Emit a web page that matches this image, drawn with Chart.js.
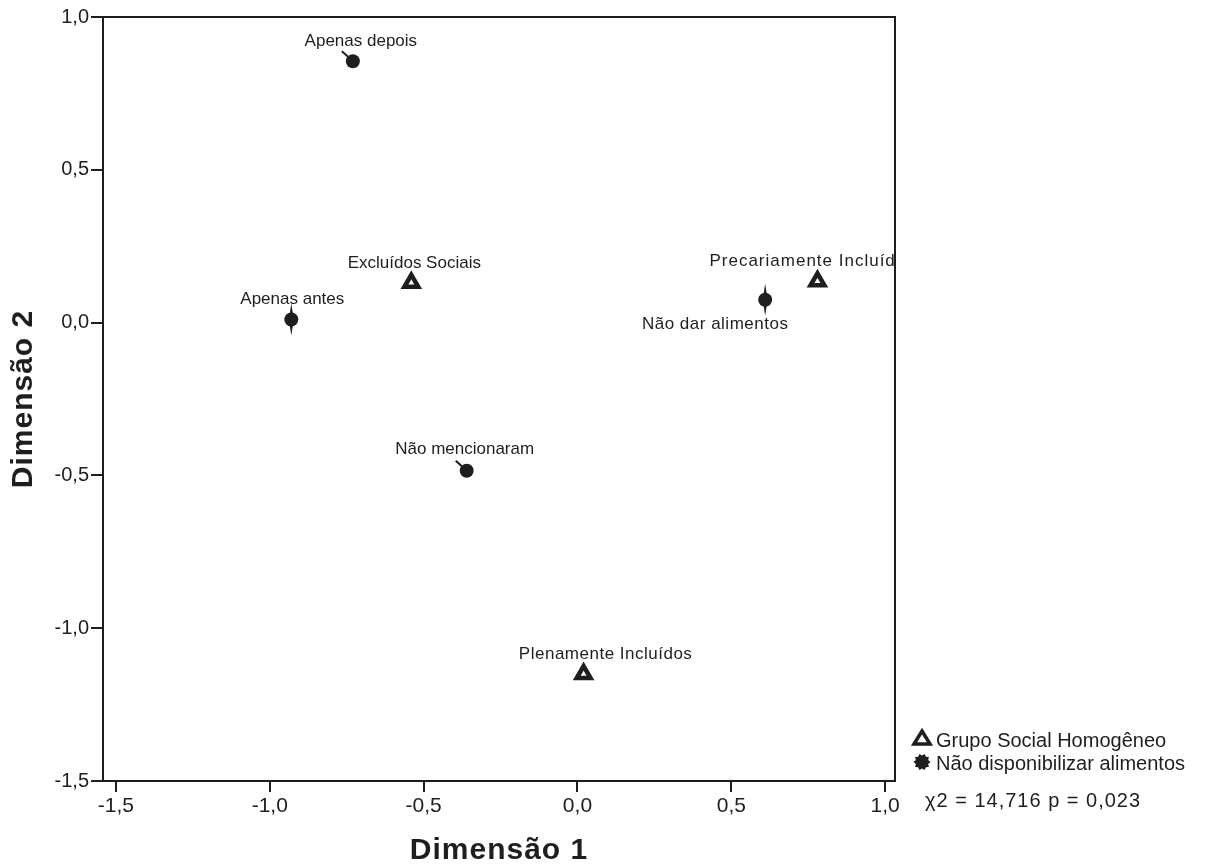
<!DOCTYPE html>
<html>
<head>
<meta charset="utf-8">
<script src="https://cdn.jsdelivr.net/npm/chart.js@4/dist/chart.umd.min.js"></script>
<style>
  body { margin: 0; background: #fff; }
  canvas { display: block; }
</style>
</head>
<body>
<canvas id="chart" width="1212" height="865"></canvas>
<script>
// category points (Grupo Social Homogêneo)
const groupNames = ['Excluídos Sociais', 'Precariamente Incluídos', 'Plenamente Incluídos'];
const groupDim1 = [-0.54, 0.78, 0.02];
const groupDim2 = [0.13, 0.135, -1.15];

// category points (Não disponibilizar alimentos)
const foodNames = ['Apenas depois', 'Apenas antes', 'Não mencionaram', 'Não dar alimentos'];
const foodDim1 = [-0.73, -0.93, -0.36, 0.61];
const foodDim2 = [0.855, 0.01, -0.485, 0.075];

const xTicks = [-1.5, -1.0, -0.5, 0.0, 0.5, 1.0];
const xTickLabels = ['-1,5', '-1,0', '-0,5', '0,0', '0,5', '1,0'];
const yTicks = [-1.5, -1.0, -0.5, 0.0, 0.5, 1.0];
const yTickLabels = ['-1,5', '-1,0', '-0,5', '0,0', '0,5', '1,0'];

const xTitle = 'Dimensão 1';
const yTitle = 'Dimensão 2';
const legendLabels = ['Grupo Social Homogêneo', 'Não disponibilizar alimentos'];
const statText = 'χ2 = 14,716 p = 0,023';

const ink = '#1e1e1e';
const FONT = "'Liberation Sans', Arial, sans-serif";

// where each point label sits relative to its marker (pixels)
const labelPlace = {
  'Apenas depois': { dx: 8, dy: -15 },
  'Apenas antes': { dx: 1, dy: -16 },
  'Não mencionaram': { dx: -2, dy: -17 },
  'Não dar alimentos': { dx: -50, dy: 29, spacing: 0.5 },
  'Excluídos Sociais': { dx: 3, dy: -15 },
  'Precariamente Incluídos': { dx: -108, dy: -15, spacing: 1, align: 'left' },
  'Plenamente Incluídos': { dx: 22, dy: -15, spacing: 0.5 }
};
// leader marks drawn by the labelling: 'tail' or 'spike'
const leader = {
  'Apenas depois': 'tail',
  'Não mencionaram': 'tail',
  'Apenas antes': 'spike',
  'Não dar alimentos': 'spike'
};

const labelsPlugin = {
  id: 'pointLabels',
  afterDatasetsDraw(chart) {
    const ctx = chart.ctx;
    const area = chart.chartArea;
    ctx.save();
    ctx.beginPath();
    ctx.rect(area.left, area.top, area.right - area.left, area.bottom - area.top);
    ctx.clip();
    ctx.fillStyle = ink;
    ctx.strokeStyle = ink;
    ctx.font = '17px ' + FONT;
    chart.data.datasets.forEach((ds, di) => {
      const meta = chart.getDatasetMeta(di);
      meta.data.forEach((pt, i) => {
        const name = ds.names[i];
        const p = labelPlace[name] || { dx: 0, dy: -15 };
        ctx.letterSpacing = (p.spacing || 0) + 'px';
        ctx.textAlign = p.align || 'center';
        ctx.textBaseline = 'alphabetic';
        ctx.fillText(name, pt.x + p.dx, pt.y + p.dy);
        if (leader[name] === 'tail') {
          ctx.lineWidth = 2;
          ctx.beginPath();
          ctx.moveTo(pt.x - 11, pt.y - 10);
          ctx.lineTo(pt.x - 2, pt.y - 2);
          ctx.stroke();
        } else if (leader[name] === 'spike') {
          ctx.beginPath();
          ctx.moveTo(pt.x, pt.y - 16);
          ctx.lineTo(pt.x + 2.5, pt.y);
          ctx.lineTo(pt.x, pt.y + 16);
          ctx.lineTo(pt.x - 2.5, pt.y);
          ctx.closePath();
          ctx.fill();
        }
      });
    });
    ctx.restore();

    // frame around plot area
    ctx.save();
    ctx.strokeStyle = ink;
    ctx.lineWidth = 2;
    ctx.strokeRect(area.left, area.top, area.right - area.left, area.bottom - area.top);
    ctx.restore();
  },
  afterDraw(chart) {
    const ctx = chart.ctx;
    const area = chart.chartArea;
    ctx.save();
    ctx.fillStyle = ink;
    ctx.strokeStyle = ink;

    // axis titles
    ctx.font = 'bold 30px ' + FONT;
    ctx.letterSpacing = '1px';
    ctx.textAlign = 'center';
    ctx.textBaseline = 'middle';
    ctx.fillText(xTitle, (area.left + area.right) / 2, 851);
    ctx.save();
    ctx.translate(24, (area.top + area.bottom) / 2);
    ctx.rotate(-Math.PI / 2);
    ctx.fillText(yTitle, 0, 0);
    ctx.restore();

    // triangle symbol
    const tx = 922, ty = 738;
    ctx.lineWidth = 3.5;
    ctx.beginPath();
    ctx.moveTo(tx, ty - 7);
    ctx.lineTo(tx + 8, ty + 6);
    ctx.lineTo(tx - 8, ty + 6);
    ctx.closePath();
    ctx.stroke();
    // gear-like star symbol
    const sx = 922, sy = 762;
    ctx.beginPath();
    for (let k = 0; k < 20; k++) {
      const r = k % 2 === 0 ? 8.5 : 6.5;
      const a = (Math.PI * k) / 10;
      ctx.lineTo(sx + r * Math.cos(a), sy + r * Math.sin(a));
    }
    ctx.closePath();
    ctx.fill();

    ctx.font = '20px ' + FONT;
    ctx.textAlign = 'left';
    ctx.letterSpacing = '0px';
    ctx.fillText(legendLabels[0], 936, 741);
    ctx.fillText(legendLabels[1], 936, 764);
    ctx.letterSpacing = '1px';
    ctx.fillText(statText, 925, 801);
    ctx.restore();
  }
};

const chart = new Chart(document.getElementById('chart'), {
  type: 'scatter',
  data: {
    datasets: [
      {
        label: legendLabels[0],
        names: groupNames,
        data: groupDim1.map((v, i) => ({ x: v, y: groupDim2[i] })),
        pointStyle: 'triangle',
        pointRadius: 8,
        backgroundColor: '#fff',
        borderColor: ink,
        borderWidth: 4.5
      },
      {
        label: legendLabels[1],
        names: foodNames,
        data: foodDim1.map((v, i) => ({ x: v, y: foodDim2[i] })),
        pointStyle: 'circle',
        pointRadius: 7,
        backgroundColor: ink,
        borderColor: ink,
        borderWidth: 0
      }
    ]
  },
  options: {
    responsive: false,
    animation: false,
    devicePixelRatio: 1,
    layout: { padding: { top: 17, right: 317, left: 0, bottom: 0 } },
    plugins: {
      legend: { display: false },
      tooltip: { enabled: false }
    },
    scales: {
      x: {
        type: 'linear',
        min: -1.542,
        max: 1.032,
        afterBuildTicks: s => { s.ticks = xTicks.map(v => ({ value: v })); },
        afterFit: s => { s.height = 84; },
        ticks: {
          callback: (v, i) => xTickLabels[i],
          font: { family: FONT, size: 21 },
          color: ink,
          padding: 2,
          maxRotation: 0
        },
        grid: { drawOnChartArea: false, drawTicks: true, tickLength: 11, color: ink, lineWidth: 2 },
        border: { display: true, color: ink, width: 2 }
      },
      y: {
        type: 'linear',
        min: -1.5,
        max: 1.0,
        afterBuildTicks: s => { s.ticks = yTicks.map(v => ({ value: v })); },
        afterFit: s => { s.width = 103; },
        ticks: {
          callback: (v, i) => yTickLabels[i],
          font: { family: FONT, size: 20 },
          color: ink,
          padding: 2
        },
        grid: { drawOnChartArea: false, drawTicks: true, tickLength: 12, color: ink, lineWidth: 2 },
        border: { display: true, color: ink, width: 2 }
      }
    }
  },
  plugins: [labelsPlugin]
});
</script>
</body>
</html>
